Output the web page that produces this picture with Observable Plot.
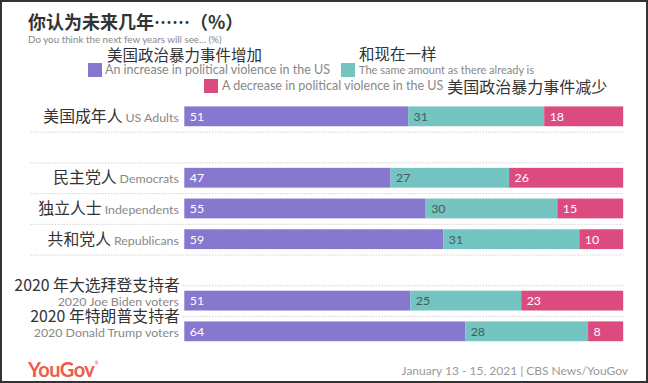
<!DOCTYPE html>
<html>
<head>
<meta charset="utf-8">
<script src="https://cdn.jsdelivr.net/npm/d3@7"></script>
<script src="https://cdn.jsdelivr.net/npm/@observablehq/plot@0.6"></script>
<style>
  html, body { margin: 0; padding: 0; background: #fff; }
  #frame { position: relative; width: 648px; height: 383px; box-sizing: border-box; border: 2px solid #333; overflow: hidden; font-family: Lato, "Noto Sans CJK SC", sans-serif; }
  .abs { position: absolute; white-space: nowrap; }
  #title { left: 26px; top: 9px; line-height: 20px; font-family: "Noto Sans CJK SC", sans-serif; font-weight: 700; font-size: 18px; color: #333; }
  #subtitle { left: 26px; top: 32px; line-height: 11px; font-size: 9.8px; color: #888; }
  .zh { font-family: "Noto Sans CJK SC", sans-serif; color: #333; }
  .en { font-family: Lato, sans-serif; color: #888; font-size: 12.5px; }
  .sw { display: inline-block; width: 14px; height: 14px; }
  #logo { left: 26px; top: 357px; line-height: 20px; height: 20px; font-family: Lato, sans-serif; font-weight: 700; font-size: 20px; color: #ef5a4c; letter-spacing: -0.5px; }
  #logo sup { font-size: 5px; font-weight: 400; vertical-align: baseline; position: relative; top: -12px; }
  #source { right: 18px; top: 362px; line-height: 14px; font-size: 12px; color: #999; }
  #chart { position: absolute; left: -2px; top: 96px; }
</style>
</head>
<body>
<div id="frame">
  <div id="title" class="abs">你认为未来几年……（%）</div>
  <div id="subtitle" class="abs">Do you think the next few years will see... (%)</div>
  <div id="legend"></div>
  <div id="chart"></div>
  <div id="logo" class="abs">YouGov<sup>®</sup></div>
  <div id="source" class="abs">January 13 - 15, 2021 | CBS News/YouGov</div>
</div>
<script>
// ---- data ----
const rowKeys = ["us", "gap1", "dem", "ind", "rep", "gap2", "biden", "trump"];
const rowZh = ["美国成年人", "", "民主党人", "独立人士", "共和党人", "", "2020 年大选拜登支持者", "2020 年特朗普支持者"];
const rowEn = ["US Adults", "", "Democrats", "Independents", "Republicans", "", "2020 Joe Biden voters", "2020 Donald Trump voters"];
const twoLine = [false, false, false, false, false, false, true, true];
const seriesEn = ["An increase in political violence in the US", "The same amount as there already is", "A decrease in political violence in the US"];
const seriesZh = ["美国政治暴力事件增加", "和现在一样", "美国政治暴力事件减少"];
const seriesColors = ["#8877cf", "#74c4c2", "#db4b80"];
const labelColors = ["#ffffff", "#4a5a5c", "#ffffff"];
const increase = [51, null, 47, 55, 59, null, 51, 64];
const same     = [31, null, 27, 30, 31, null, 25, 28];
const decrease = [18, null, 26, 15, 10, null, 23, 8];

// ---- legend (HTML) ----
const legend = document.getElementById("legend");
legend.innerHTML = `
  <div class="abs zh" style="left:105px;top:45px;line-height:15px;height:15px;font-size:15.5px;">${seriesZh[0]}</div>
  <div class="abs" style="left:86px;top:61px;line-height:13px;height:14px;"><span class="sw" style="background:${seriesColors[0]};vertical-align:top"></span><span class="en" style="margin-left:3px;line-height:13px;vertical-align:top">${seriesEn[0]}</span></div>
  <div class="abs zh" style="left:357px;top:44px;line-height:15px;height:15px;font-size:15.5px;">${seriesZh[1]}</div>
  <div class="abs" style="left:339px;top:61px;line-height:13px;height:14px;"><span class="sw" style="background:${seriesColors[1]};vertical-align:top"></span><span class="en" style="margin-left:4px;font-size:11px;line-height:13px;vertical-align:top">${seriesEn[1]}</span></div>
  <div class="abs" style="left:202px;top:77px;line-height:14px;height:14px;"><span class="sw" style="background:${seriesColors[2]};vertical-align:top"></span><span class="en" style="margin-left:4px;line-height:13px;vertical-align:top">${seriesEn[2]}</span><span class="zh" style="margin-left:4px;font-size:16px;line-height:14px;vertical-align:top">${seriesZh[2]}</span></div>
`;

// ---- table for Plot ----
const cells = [];
rowKeys.forEach((k, i) => {
  [increase, same, decrease].forEach((arr, s) => {
    if (arr[i] != null) cells.push({row: k, series: s, value: arr[i]});
  });
});
const rows = rowKeys.map((k, i) => ({row: k, zh: rowZh[i], en: rowEn[i], two: twoLine[i]})).filter(d => d.en);
const bounds = rowKeys.slice(1).map((k) => ({row: k}));

const stackOpts = {x: "value", y: "row", z: "series", order: "z", offset: "normalize"};

const chart = Plot.plot({
  width: 652,
  height: 252,
  marginLeft: 31,
  marginRight: 23,
  marginTop: 2.5,
  marginBottom: 1.5,
  x: {domain: [0, 1], range: [186, 629], axis: null},
  y: {domain: rowKeys, axis: null, padding: 0},
  color: {domain: [0, 1, 2], range: seriesColors},
  style: {fontFamily: "Lato, sans-serif", background: "transparent"},
  marks: [
    Plot.ruleY(bounds, {y: "row", stroke: "#cfcfcf", strokeDasharray: "1.5,1.5", strokeWidth: 1, dy: -15.5}),
    Plot.barX(cells, Plot.stackX({...stackOpts, fill: d => d.series, insetTop: 5.5, insetBottom: 5.5})),
    Plot.text(cells, Plot.stackX1({...stackOpts, text: d => String(d.value), textAnchor: "start", dx: 5, fill: d => labelColors[d.series], fontSize: 12.5})),
    // single-line row labels (zh + en combined, split into tspans below)
    Plot.text(rows.filter(d => !d.two), {x: () => 0, y: "row", text: d => d.zh + "|" + d.en, textAnchor: "end", dx: -6, lineAnchor: "bottom", dy: 5, fontSize: 16, ariaDescription: "rowlabels"}),
    // two-line rows: zh above
    Plot.text(rows.filter(d => d.two), {x: () => 0, y: "row", text: "zh", textAnchor: "end", dx: -5, lineAnchor: "bottom", dy: -10, fontSize: 16, fill: "#333", stroke: "white", strokeWidth: 6, fontFamily: "Noto Sans CJK SC, sans-serif"}),
    Plot.text(rows.filter(d => d.two), {x: () => 0, y: "row", text: "en", textAnchor: "end", dx: -6, lineAnchor: "bottom", dy: 5, fontSize: 12.5, fill: "#888"})
  ]
});
document.getElementById("chart").appendChild(chart);

// split combined labels into styled tspans
d3.select(chart).selectAll('g[aria-description="rowlabels"] text').each(function() {
  const t = this.textContent;
  const [zh, en] = t.split("|");
  const sel = d3.select(this);
  sel.text(null);
  sel.append("tspan").attr("font-family", "Noto Sans CJK SC, sans-serif").attr("font-size", 16).attr("fill", "#333").text(zh);
  sel.append("tspan").attr("font-size", 12.5).attr("fill", "#888").attr("dx", 3).text(en);
});
</script>
</body>
</html>
